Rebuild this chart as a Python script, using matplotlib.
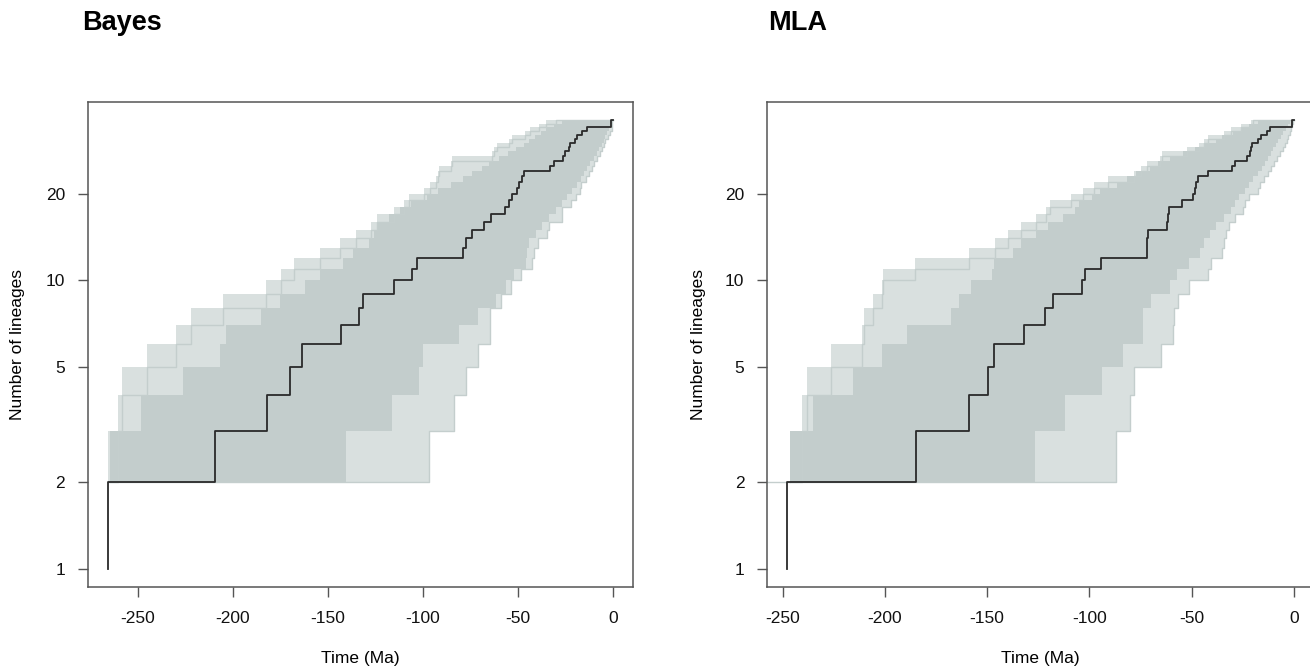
import numpy as np
import matplotlib
matplotlib.use("Agg")
import matplotlib.pyplot as plt

plt.rcParams['font.family'] = ['Liberation Sans', 'DejaVu Sans']

# lineage counts shown on the y axis
levels = list(range(2, 37))
ytick_vals = [1, 2, 5, 10, 20]
xtick_vals = [-250, -200, -150, -100, -50, 0]

# Bayes: MCC tree, times where the count goes up by one (1 -> 36)
bayes_mcc = [-265.8, -209.3, -182.2, -169.8, -163.7, -143.0, -133.5, -131.7, -115.0,
             -105.5, -102.8, -79.0, -77.3, -74.0, -67.8, -64.0, -56.5, -54.8, -53.0,
             -50.2, -49.2, -47.8, -46.5, -33.2, -31.0, -26.3, -25.0, -23.3, -22.8,
             -19.8, -18.7, -16.3, -13.7, -1.0, -1.0]
# earliest posterior tree, time it reaches 2..36 lineages
bayes_outer_left = [-265.4, -260.6, -258.2, -245.0, -229.6, -221.7, -205.1, -182.7, -174.5,
                    -167.5, -154.0, -143.5, -135.1, -127.2, -124.0, -115.0, -110.0, -107.4,
                    -99.2, -96.0, -93.1, -92.0, -91.3, -85.2, -84.4, -63.4, -62.6, -60.8,
                    -54.7, -53.0, -46.0, -43.4, -39.0, -35.0, -30.1]
# latest posterior tree, time it reaches 3..36 lineages
bayes_outer_right = [-96.9, -83.8, -77.0, -70.9, -64.7, -64.5, -59.0, -53.7, -48.5, -42.4,
                     -41.5, -39.2, -34.5, -33.6, -26.6, -26.5, -22.2, -19.6, -17.5, -17.0,
                     -14.3, -12.6, -11.0, -10.0, -8.2, -6.5, -5.6, -4.8, -4.2, -2.4, -1.5,
                     -0.7, -0.5, -0.3]
# dense part of the posterior cloud, per band 2..35 (left / right edge)
bayes_core_left = [-264.3, -248.0, -226.3, -206.7, -203.3, -185.0, -175.3, -162.2, -154.3,
                   -142.1, -136.9, -128.1, -125.5, -123.9, -118.0, -112.0, -106.0, -98.0,
                   -92.0, -85.0, -79.0, -74.0, -69.0, -65.0, -60.0, -55.0, -51.0, -47.0,
                   -44.0, -41.0, -38.0, -35.0, -31.0, -27.0]
bayes_core_right = [-140.3, -116.4, -101.8, -100.0, -80.8, -71.2, -61.6, -56.3, -52.0, -45.8,
                    -45.0, -44.0, -40.6, -37.1, -33.6, -30.1, -26.6, -24.0, -21.4, -18.8,
                    -17.0, -15.3, -13.5, -11.8, -10.1, -8.3, -7.1, -5.7, -4.8, -4.0, -3.1,
                    -2.2, -1.7, -1.2]

# MLA
mla_mcc = [-247.8, -184.7, -158.7, -149.6, -146.7, -132.1, -121.6, -117.7, -103.7, -101.9,
           -94.2, -72.0, -71.8, -71.5, -61.9, -61.5, -61.0, -54.6, -49.1, -48.3, -47.6,
           -46.8, -42.0, -30.2, -28.8, -22.9, -21.5, -20.7, -20.3, -17.7, -16.0, -13.2,
           -11.6, -1.0, -1.0]
mla_oldest_root = -262.0
mla_outer_left = [-246.3, -240.5, -238.1, -226.2, -211.2, -210.4, -205.8, -201.3, -201.0,
                  -185.1, -158.7, -145.9, -139.8, -133.3, -126.2, -121.1, -119.1, -109.0,
                  -102.9, -97.8, -90.7, -78.1, -74.5, -72.0, -65.3, -64.3, -52.2, -46.1,
                  -44.0, -42.0, -33.9, -30.8, -25.8, -20.7, -19.7]
mla_outer_right = [-87.0, -80.0, -77.9, -65.0, -59.1, -58.8, -56.6, -51.1, -42.0, -40.6,
                   -34.9, -33.9, -32.9, -31.9, -28.8, -24.8, -23.7, -22.1, -17.7, -16.6,
                   -14.6, -12.6, -11.2, -9.5, -8.1, -6.9, -5.5, -4.5, -3.4, -2.6, -1.8,
                   -1.4, -1.0, -0.6]
mla_core_left = [-246.3, -235.2, -215.3, -201.4, -189.2, -167.8, -163.8, -157.7, -147.5,
                 -146.5, -137.4, -133.3, -126.2, -120.1, -113.0, -106.9, -104.9, -98.8,
                 -94.8, -86.6, -81.6, -77.0, -70.4, -66.4, -60.3, -54.2, -48.1, -44.0,
                 -37.9, -34.9, -29.8, -25.8, -21.7, -17.7]
mla_core_right = [-126.4, -112.0, -93.8, -83.3, -73.5, -73.5, -70.0, -60.3, -57.2, -51.1,
                  -46.0, -44.0, -41.0, -37.9, -33.9, -30.8, -28.8, -26.8, -23.7, -21.7,
                  -19.7, -17.7, -15.6, -14.0, -12.6, -11.2, -10.0, -8.5, -7.5, -6.3, -5.1,
                  -3.9, -2.8, -1.8]

CORE = '#c3cdcc'
HAZE = '#d9e0df'
EDGE = '#c4cecd'
AXC = '#555555'


def draw_panel(ax, mcc, outer_left, outer_right, core_left, core_right, xlim, oldest=None):
    lv = np.array(levels)
    # thin cloud of outlying trees
    hx1 = list(outer_left)
    hx2 = list(outer_right) + [0.0]
    ax.fill_betweenx(lv, hx1, hx2, step='post', color=HAZE, lw=0)
    # dense part
    cx1 = list(core_left) + [outer_left[-1]]
    cx2 = list(core_right) + [0.0]
    ax.fill_betweenx(lv, cx1, cx2, step='post', color=CORE, lw=0)
    # outline trees
    ax.step(list(outer_left) + [0.0], list(levels) + [36], where='post', color=EDGE, lw=1)
    ax.step([core_left[0]] + list(outer_right) + [0.0], list(levels) + [36],
            where='post', color=EDGE, lw=1)
    if oldest is not None:
        ax.hlines(2, oldest, core_left[0], color=EDGE, lw=1)
    # MCC tree
    ax.step([mcc[0]] + list(mcc) + [0.0], list(range(1, 37)) + [36],
            where='post', color='#2a2a2a', lw=1.3)

    ax.set_yscale('log')
    ax.set_ylim(10 ** -0.0623, 10 ** 1.6186)
    ax.set_xlim(*xlim)
    ax.set_yticks(ytick_vals)
    ax.set_yticklabels([str(v) for v in ytick_vals])
    ax.yaxis.set_minor_locator(matplotlib.ticker.NullLocator())
    ax.set_xticks(xtick_vals)
    ax.set_xticklabels([str(v) for v in xtick_vals])
    for s in ax.spines.values():
        s.set_color(AXC)
        s.set_linewidth(1.1)
    ax.tick_params(direction='out', length=7.2, width=1, color=AXC, labelsize=12.5,
                   labelcolor='#111111')
    ax.tick_params(axis='x', pad=10)
    ax.tick_params(axis='y', pad=9)


fig = plt.figure(figsize=(13.1, 6.66), dpi=100)
W, H = 1310.0, 666.0

ax1 = fig.add_axes([87.5 / W, 1 - 587 / H, (633 - 87.5) / W, (587 - 102) / H])
draw_panel(ax1, bayes_mcc, bayes_outer_left, bayes_outer_right, bayes_core_left,
           bayes_core_right, (-276.4, 10.6))

ax2 = fig.add_axes([767 / W, 1 - 587 / H, (1314 - 767) / W, (587 - 102) / H])
draw_panel(ax2, mla_mcc, mla_outer_left, mla_outer_right, mla_core_left, mla_core_right,
           (-257.6, 9.9), oldest=mla_oldest_root)

fig.text(82 / W, 1 - 23 / H, 'Bayes', ha='left', va='center', fontsize=19.5, weight='bold')
fig.text(768 / W, 1 - 23 / H, 'MLA', ha='left', va='center', fontsize=19.5, weight='bold')

for cx in [(87.5 + 633) / 2, (767 + 1314) / 2]:
    fig.text(cx / W, 1 - 658 / H, 'Time (Ma)', ha='center', va='center', fontsize=12.5)
for lx in [18, 698]:
    fig.text(lx / W, 1 - 345 / H, 'Number of lineages', ha='center', va='center',
             rotation=90, fontsize=12.5)

fig.savefig('out.png', dpi=100)
